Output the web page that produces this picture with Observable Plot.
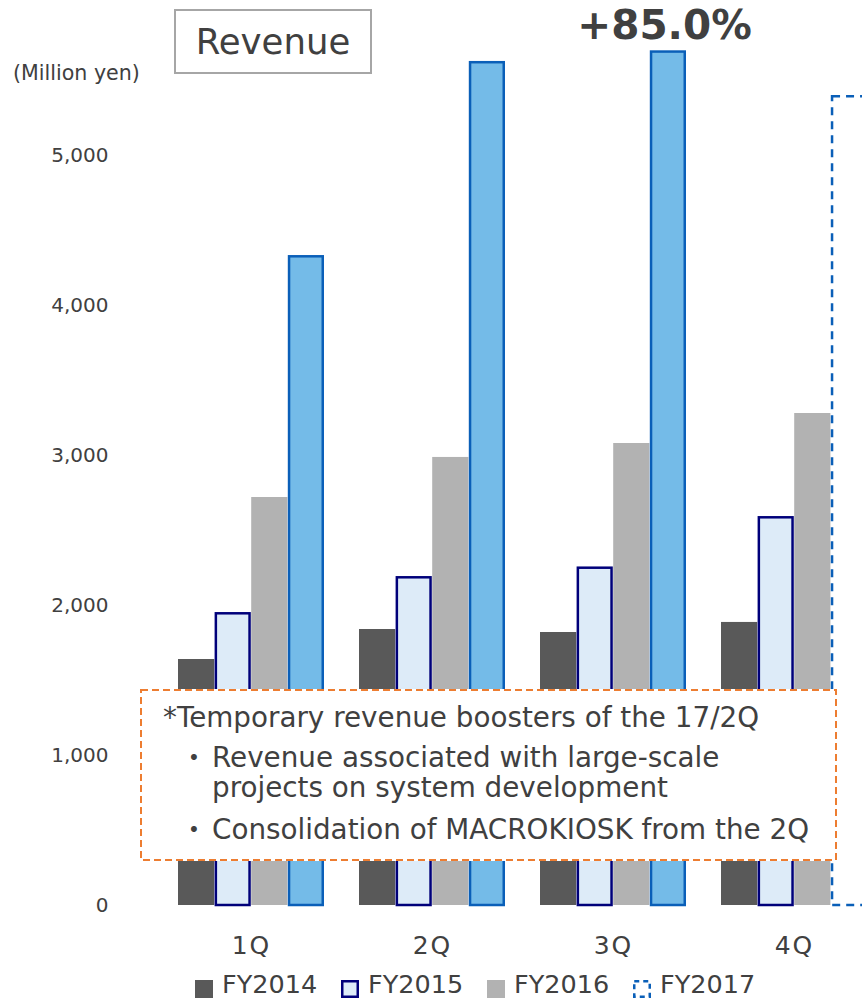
<!DOCTYPE html>
<html>
<head>
<meta charset="utf-8">
<script src="https://cdn.jsdelivr.net/npm/d3@7"></script>
<script src="https://cdn.jsdelivr.net/npm/@observablehq/plot@0.6"></script>
<style>
  html, body { margin: 0; padding: 0; background: #fff; overflow: hidden; }
  #wrap {
    position: relative; width: 862px; height: 998px; overflow: hidden;
    font-family: "DejaVu Sans", "Noto Sans CJK JP", sans-serif; color: #404040;
  }
  #chart { position: absolute; left: 0; top: 0; width: 870px; }
  #chart svg { max-width: none !important; }
  .title {
    position: absolute; left: 174px; top: 9px; width: 194px; height: 61px;
    border: 2px solid #a6a6a6; background: #fff;
    font-size: 35.5px; line-height: 61px; text-align: center;
  }
  .unit { position: absolute; left: 13px; top: 61px; font-size: 20.6px; line-height: 24px; white-space: nowrap; }
  .note { position: absolute; left: 140px; top: 689px; width: 697px; height: 172px; background: #fff; }
  .note svg { position: absolute; left: 0; top: 0; }
  .note .line { position: absolute; font-size: 27.8px; line-height: 28px; white-space: nowrap; }
  .legend-item { position: absolute; top: 972px; height: 26px; white-space: nowrap; }
  .legend-item svg { position: absolute; left: 0; top: 8px; }
  .legend-item span { position: absolute; left: 27px; top: 0; font-size: 25.5px; line-height: 25px; }
</style>
</head>
<body>
<div id="wrap">
  <div id="chart"></div>
  <div class="title">Revenue</div>
  <div class="unit">(Million yen)</div>
  <div class="note" id="note"></div>
  <div id="legend"></div>
</div>
<script>
// Quarterly revenue, million yen
const quarters = ["1Q", "2Q", "3Q", "4Q"];
const seriesNames = ["FY2014", "FY2015", "FY2016", "FY2017"];
const fy2014 = [1640, 1840, 1820, 1887];
const fy2015 = [1953, 2193, 2257, 2593];
const fy2016 = [2720, 2987, 3080, 3280];
const fy2017 = [4333, 5627, 5698, 5400];
// FY2017 4Q is a plan figure, drawn as a dashed outline
const fy2017Forecast = [false, false, false, true];
const yTicks = [0, 1000, 2000, 3000, 4000, 5000];
const growthQuarter = "3Q";

const noteTitle = "*Temporary revenue boosters of the 17/2Q";
const noteBullets = [
  ["Revenue associated with large-scale", "projects on system development"],
  ["Consolidation of MACROKIOSK from the 2Q"]
];

const valuesBySeries = {FY2014: fy2014, FY2015: fy2015, FY2016: fy2016, FY2017: fy2017};
const rows = seriesNames.flatMap(s => quarters.map((q, i) => ({
  quarter: q, series: s, value: valuesBySeries[s][i],
  forecast: s === "FY2017" && fy2017Forecast[i]
})));

const styles = {
  FY2014: {fill: "#595959"},
  FY2015: {fill: "#ddebf8", stroke: "#00007a", strokeWidth: 2.5},
  FY2016: {fill: "#b2b2b2"},
  FY2017: {fill: "#74bbe8", stroke: "#0a5fb8", strokeWidth: 2.5}
};

const BAR = 36.6; // width of one bar inside a quarter group
const marks = seriesNames.map((s, i) => {
  const st = styles[s];
  const half = st.stroke ? st.strokeWidth / 2 : 0;
  return Plot.barY(rows.filter(d => d.series === s && !d.forecast), {
    x: "quarter", y: "value",
    insetLeft: i * BAR + half, insetRight: (3 - i) * BAR + half, insetTop: half,
    ...st
  });
});
marks.push(Plot.barY(rows.filter(d => d.forecast), {
  x: "quarter", y: "value",
  insetLeft: 3 * BAR + 1.25, insetRight: 1.25, insetTop: 1.25,
  fill: "none", stroke: "#0a5fb8", strokeWidth: 2.5, strokeDasharray: "8,6"
}));

// year-on-year growth of the FY2017 quarter
const gi = quarters.indexOf(growthQuarter);
const growth = fy2017[gi] / fy2016[gi] - 1;
const growthLabel = "+" + (growth * 100).toFixed(1) + "%";
marks.push(Plot.text([{quarter: growthQuarter, value: fy2017[gi]}], {
  x: "quarter", y: "value", text: () => growthLabel,
  dx: 51, dy: -12, lineAnchor: "bottom",
  fontSize: 40.5, fontWeight: "bold", fill: "#404040"
}));

marks.push(Plot.axisY({
  ticks: yTicks, tickSize: 0, tickPadding: 10, tickFormat: d3.format(","),
  fontSize: 20, label: null
}));
marks.push(Plot.axisX({tickSize: 0, tickPadding: 31, fontSize: 25, label: null}));

const chart = Plot.plot({
  width: 870, height: 998,
  marginLeft: 118, marginBottom: 93, marginTop: 35, marginRight: 0,
  style: {fontFamily: '"DejaVu Sans", sans-serif', color: "#404040", background: "transparent", maxWidth: "none"},
  x: {domain: quarters, range: [176.7, 868.1], paddingInner: 0.194, paddingOuter: 0, axis: null},
  y: {domain: [0, 5800], range: [905, 35], axis: null},
  marks
});
chart.querySelectorAll('g[aria-label="x-axis tick label"] text').forEach(t => t.style.letterSpacing = "2px");
document.getElementById("chart").appendChild(chart);

// annotation box
const note = document.getElementById("note");
note.innerHTML = `<svg width="697" height="172"><rect x="1" y="1" width="695" height="170" fill="#fff" stroke="#ed7d31" stroke-width="2" stroke-dasharray="7,4"/></svg>`;
const addLine = (text, left, baseline) => {
  const d = document.createElement("div");
  d.className = "line"; d.textContent = text;
  d.style.left = left + "px"; d.style.top = (baseline - 23) + "px";
  note.appendChild(d);
};
addLine(noteTitle, 23, 38);
addLine("・", 40, 78);
addLine(noteBullets[0][0], 72, 78);
addLine(noteBullets[0][1], 72, 108);
addLine("・", 40, 150);
addLine(noteBullets[1][0], 72, 150);

// legend
const legend = document.getElementById("legend");
const swatch = {
  FY2014: `<rect x="0" y="0" width="18" height="18" fill="#595959"/>`,
  FY2015: `<rect x="1.25" y="1.25" width="15.5" height="15.5" fill="#ddebf8" stroke="#00007a" stroke-width="2.5"/>`,
  FY2016: `<rect x="0" y="0" width="18" height="18" fill="#b2b2b2"/>`,
  FY2017: `<rect x="1.25" y="1.25" width="15.5" height="15.5" fill="none" stroke="#0a5fb8" stroke-width="2.5" stroke-dasharray="5,4"/>`
};
seriesNames.forEach((s, i) => {
  const item = document.createElement("div");
  item.className = "legend-item";
  item.style.left = (195 + 146 * i) + "px";
  item.innerHTML = `<svg width="18" height="18">${swatch[s]}</svg><span>${s}</span>`;
  legend.appendChild(item);
});
</script>
</body>
</html>
